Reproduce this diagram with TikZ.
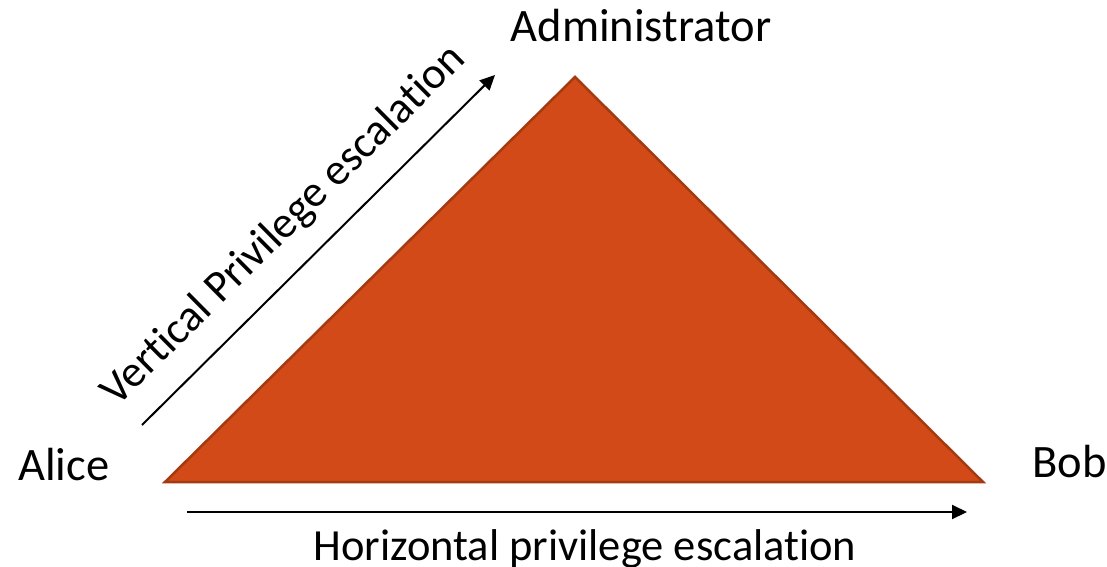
\documentclass[tikz,border=0pt]{standalone}
\usepackage{fontspec}
\setmainfont[Ligatures={NoCommon}]{Carlito}
\usetikzlibrary{arrows.meta}

\definecolor{rust}{HTML}{D14A18}
\definecolor{rustdark}{HTML}{A33A12}

\begin{document}
\begin{tikzpicture}[x=1pt, y=1pt]

\tikzstyle{label}=[inner sep=0pt, font=\fontsize{46.5}{56}\selectfont]
\tikzstyle{label2}=[inner sep=0pt, font=\fontsize{44.5}{54}\selectfont]
\tikzstyle{side}=[fill=rust, draw=rustdark, line width=2.5pt, line join=miter]
\tikzstyle{edge1}=[-{Triangle[length=15pt, width=14pt]}, line width=2pt]

\useasboundingbox (0, 0) rectangle (1107, 566);

\coordinate (top)   at (575, 489);
\coordinate (left)  at (165, 84);
\coordinate (right) at (983, 84);

\coordinate (hstart) at (187, 54);
\coordinate (hend)   at (967, 54);
\coordinate (vstart) at (142, 141);
\coordinate (vend)   at (495, 491);

\draw[side] (left) -- (top) -- (right) -- cycle;

\node[label, anchor=base west] (alice) at (18, 86) {Alice};
\node[label, anchor=base west] (bob)   at (1032, 89) {Bob};
\node[label, anchor=base] (admin) at (641, 524) {Administrator};

\draw[edge1] (hstart) -- (hend);
\draw[edge1] (vstart) -- node[label2, sloped, above, pos=0.485, inner sep=21pt] (vlabel) {Vertical Privilege escalation} (vend);

\node[label2, anchor=base] (hlabel) at (585, 6) {Horizontal privilege escalation};

\end{tikzpicture}
\end{document}
